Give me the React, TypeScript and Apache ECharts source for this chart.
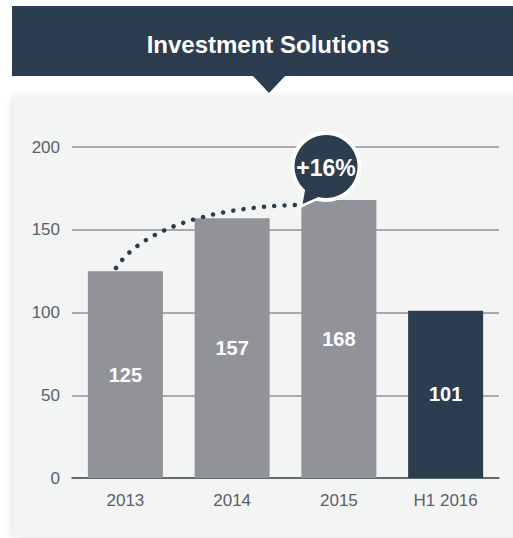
import React, { useEffect, useRef } from "react";
import * as echarts from "echarts";

const title = "Investment Solutions";
const categories = ["2013", "2014", "2015", "H1 2016"];
const values = [125, 157, 168, 101];
const yTicks = { min: 0, max: 200, interval: 50 };
const growthLabel = "+16%";

const DARK = "#2b3d4f";
const GRAY = "#929299";
const FONT = "'Liberation Sans', Arial, sans-serif";

export default function App() {
  const ref = useRef<HTMLDivElement>(null);
  useEffect(() => {
    if (!ref.current) return;
    const chart = echarts.init(ref.current, undefined, { renderer: "svg" });
    const lastIdx = values.length - 1;
    chart.setOption({
      animation: false,
      backgroundColor: "#ffffff",
      textStyle: { fontFamily: FONT },
      grid: { left: 72, right: 14, top: 147, bottom: 60 },
      xAxis: {
        type: "category",
        data: categories,
        axisTick: { show: false },
        axisLine: { show: true, lineStyle: { color: "#4d535b", width: 1.5 } },
        axisLabel: { color: "#5b6068", fontSize: 17, margin: 14, fontFamily: FONT },
      },
      yAxis: {
        type: "value",
        min: yTicks.min,
        max: yTicks.max,
        interval: yTicks.interval,
        axisLine: { show: false },
        axisTick: { show: false },
        axisLabel: { color: "#5b6068", fontSize: 17, margin: 12, fontFamily: FONT },
        splitLine: { lineStyle: { color: "#8f9297", width: 1.5 } },
      },
      series: [
        {
          type: "bar",
          barWidth: 75,
          z: 3,
          data: values.map((v, i) => ({
            value: v,
            itemStyle: { color: i === lastIdx ? DARK : GRAY },
          })),
          label: {
            show: true,
            position: "inside",
            color: "#ffffff",
            fontSize: 20,
            fontWeight: "bold",
            fontFamily: FONT,
          },
        },
      ],
      graphic: [
        {
          type: "rect",
          z: -20,
          silent: true,
          shape: { x: 13, y: 97, width: 520, height: 440 },
          style: {
            fill: "#f3f4f4",
            shadowBlur: 8,
            shadowColor: "rgba(0,0,0,0.15)",
            shadowOffsetY: 1,
          },
        },
        {
          type: "rect",
          z: -10,
          silent: true,
          shape: { x: 12, y: 6, width: 501, height: 70 },
          style: { fill: DARK },
        },
        {
          type: "polygon",
          z: -10,
          silent: true,
          shape: { points: [[252, 75], [286, 75], [269, 93]] },
          style: { fill: DARK },
        },
        {
          type: "text",
          z: 10,
          silent: true,
          x: 268,
          y: 44,
          style: {
            text: title,
            fill: "#ffffff",
            font: `bold 24px ${FONT}`,
            align: "center",
            verticalAlign: "middle",
          },
        },
        {
          type: "bezierCurve",
          z: 50,
          silent: true,
          shape: { x1: 116, y1: 268, cpx1: 138, cpy1: 234, cpx2: 200, cpy2: 207, x2: 299, y2: 205 },
          style: {
            stroke: DARK,
            fill: "none",
            lineWidth: 4.5,
            lineDash: [0.01, 10.3],
            lineCap: "round",
          },
        },
        {
          type: "polygon",
          z: 60,
          silent: true,
          shape: { points: [[301, 206], [305, 186], [320, 197]] },
          style: { fill: DARK, stroke: "#ffffff", lineWidth: 3.5, lineJoin: "miter" },
        },
        {
          type: "circle",
          z: 61,
          silent: true,
          shape: { cx: 326, cy: 166.5, r: 33.5 },
          style: { fill: DARK, stroke: "#ffffff", lineWidth: 4 },
        },
        {
          type: "polygon",
          z: 62,
          silent: true,
          shape: { points: [[302.5, 204], [305.5, 188], [318.5, 197]] },
          style: { fill: DARK },
        },
        {
          type: "text",
          z: 63,
          silent: true,
          x: 326,
          y: 168,
          style: {
            text: growthLabel,
            fill: "#ffffff",
            font: `bold 23px ${FONT}`,
            align: "center",
            verticalAlign: "middle",
          },
        },
      ],
    });
    return () => chart.dispose();
  }, []);
  return (
    <div
      ref={ref}
      style={{ position: "absolute", left: 0, top: 0, width: 513, height: 538 }}
    />
  );
}
